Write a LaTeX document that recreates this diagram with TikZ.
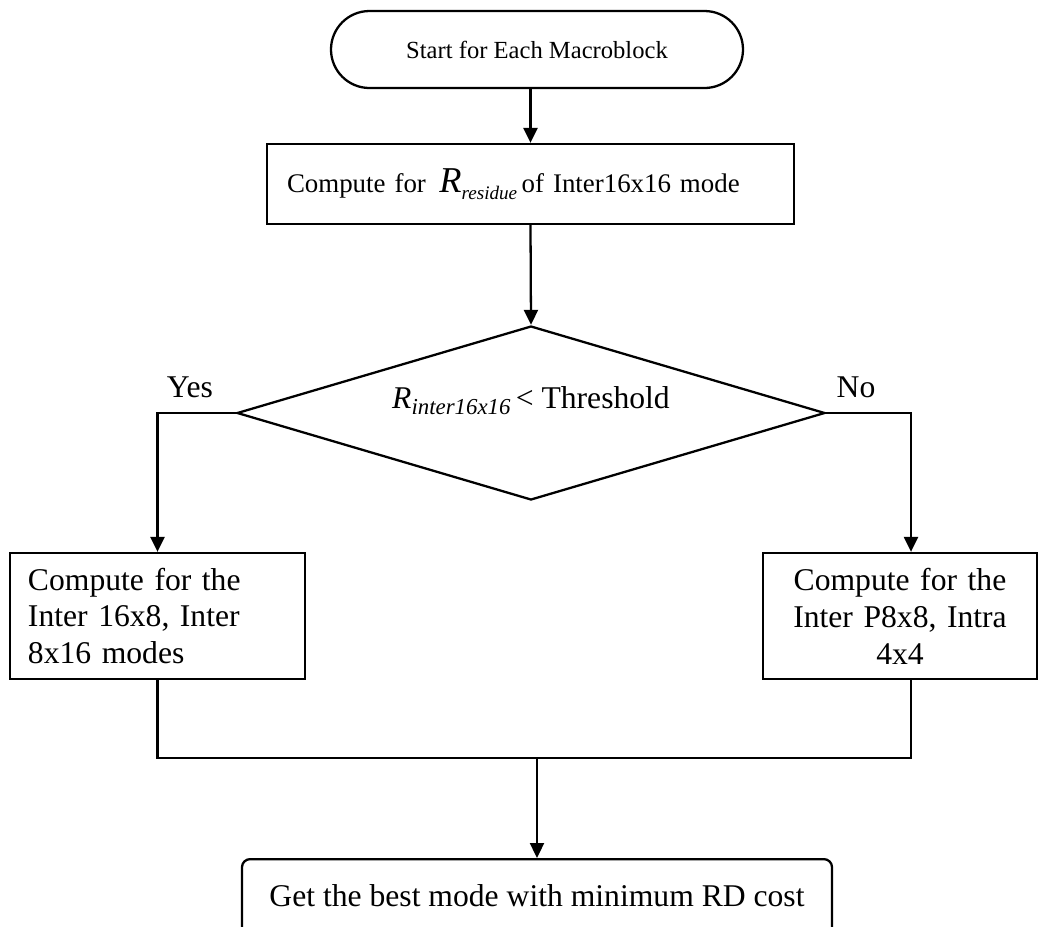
\documentclass[tikz,border=0pt]{standalone}
\usepackage{fontspec}
\setmainfont{Liberation Serif}
\usetikzlibrary{arrows.meta,shapes.geometric}

\begin{document}
\begin{tikzpicture}[>=Latex,line width=1.3pt,
  bigtext/.style={font=\fontsize{18}{21}\selectfont},
  smalltext/.style={font=\fontsize{14}{16}\selectfont},
  sidebox/.style={draw,bigtext,minimum width=#1,minimum height=2.52cm,inner sep=0pt},
  flowarrow/.style={-{Triangle[length=0.3cm,width=0.28cm]}}]
\useasboundingbox (0,0) rectangle (20.92,-18.52);
\node[draw,smalltext,rounded corners=0.77cm,minimum width=8.24cm,minimum height=1.54cm] (start) at (10.74,-0.99) {Start for Each Macroblock};
\node[draw,font=\fontsize{15.3}{17}\selectfont,minimum width=10.54cm,minimum height=1.6cm,text width=9.74cm,inner xsep=0.4cm,align=left] (resid) at (10.61,-3.68) {Compute for \,{\fontsize{20.7}{20}\selectfont\itshape R}\raisebox{-0.28em}{\fontsize{10.9}{11}\selectfont\itshape residue}\,of Inter16x16 mode};
\node[draw,diamond,bigtext,aspect=3.38,minimum width=11.76cm,minimum height=3.48cm,inner sep=0pt,text depth=0.6cm] (test) at (10.62,-8.26) {\textit{R}\raisebox{-3pt}{\fontsize{13}{13}\selectfont\itshape inter16x16}\,< Threshold};
\node[bigtext] (yes) at (3.8,-7.74) {Yes};
\node[bigtext] (no) at (17.12,-7.74) {No};
\node[sidebox=5.9cm,text width=5.18cm,align=left] (lbox) at (3.15,-12.32) {Compute for the\\Inter 16x8, Inter\\8x16 modes};
\node[sidebox=5.48cm,text width=5.0cm,align=center] (rbox) at (18.0,-12.32) {Compute for the\\Inter P8x8, Intra\\4x4};
\node[draw,bigtext,rounded corners=0.16cm,anchor=north,minimum width=11.8cm,inner ysep=0.5cm,text depth=2cm] (best) at (10.74,-17.16) {Get the best mode with minimum RD cost};
\coordinate (join) at (10.74,-15.16);
% flow
\draw[flowarrow] (resid.north |- start.south)--(resid.north);
\draw[flowarrow] (resid.south)--(test.north);
\draw[flowarrow] (test.west) -| (lbox.north);
\draw[flowarrow] (test.east) -| ([xshift=0.22cm]rbox.north);
\draw (lbox.south) |- (join) -| ([xshift=0.22cm]rbox.south);
\draw[flowarrow] (join)--(best.north);
\end{tikzpicture}
\end{document}
